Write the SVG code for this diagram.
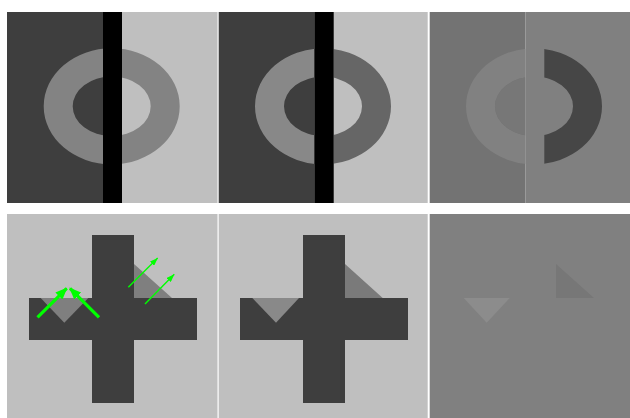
<svg xmlns="http://www.w3.org/2000/svg" width="630" height="418" viewBox="0 0 630 418">
<style>
.dark{fill:#3e3e3e}.light{fill:#bfbfbf}.mid{fill:#808080}.bar{fill:#000}
.g{stroke:#00ff00;fill:none}
</style>
<defs>
<clipPath id="cL2" clipPathUnits="userSpaceOnUse"><rect x="200" y="0" width="114.3" height="418"/></clipPath>
<clipPath id="cR2" clipPathUnits="userSpaceOnUse"><rect x="333.7" y="0" width="90" height="418"/></clipPath>
<clipPath id="cL3" clipPathUnits="userSpaceOnUse"><rect x="429.7" y="0" width="95.6" height="418"/></clipPath>
<clipPath id="cR3" clipPathUnits="userSpaceOnUse"><rect x="544.3" y="0" width="86" height="418"/></clipPath>
<marker id="hThick" markerUnits="userSpaceOnUse" markerWidth="12" markerHeight="10" viewBox="0 0 12 10" refX="11" refY="5" orient="auto"><path d="M0,0L12,5L0,10Z" fill="#00ff00"/></marker>
<marker id="hThin" markerUnits="userSpaceOnUse" markerWidth="8" markerHeight="6" viewBox="0 0 8 6" refX="8" refY="3" orient="auto"><path d="M0,0L8,3L0,6Z" fill="#00ff00"/></marker>
</defs>
<rect width="630" height="418" fill="#ffffff"/>
<g id="panelA1">
<rect class="dark" x="7" y="12" width="96" height="191"/>
<rect class="light" x="103" y="12" width="114.5" height="191"/>
<path fill="#838383" fill-rule="evenodd" d="M43.7,106.3A68,58 0 0,1 179.7,106.3A68,58 0 0,1 43.7,106.3ZM72.7,106.3A39,29.7 0 0,1 150.7,106.3A39,29.7 0 0,1 72.7,106.3Z"/>
<rect class="bar" x="103" y="12" width="19" height="191"/>
</g>
<g id="panelA2">
<rect class="dark" x="218.7" y="12" width="95.6" height="191"/>
<rect class="light" x="314.3" y="12" width="113.4" height="191"/>
<g clip-path="url(#cL2)">
<path fill="#888888" fill-rule="evenodd" d="M255,106.3A68,58 0 0,1 391,106.3A68,58 0 0,1 255,106.3ZM284,106.3A39,29.7 0 0,1 362,106.3A39,29.7 0 0,1 284,106.3Z"/>
</g>
<g clip-path="url(#cR2)">
<path fill="#666666" fill-rule="evenodd" d="M255,106.3A68,58 0 0,1 391,106.3A68,58 0 0,1 255,106.3ZM284,106.3A39,29.7 0 0,1 362,106.3A39,29.7 0 0,1 284,106.3Z"/>
</g>
<rect class="bar" x="314.3" y="12" width="19.4" height="191"/>
</g>
<g id="panelA3">
<rect x="429.7" y="12" width="95.6" height="191" fill="#737373"/>
<rect class="mid" x="525.3" y="12" width="104.7" height="191"/>
<g clip-path="url(#cL3)">
<path fill="#818181" fill-rule="evenodd" d="M466,106.3A68,58 0 0,1 602,106.3A68,58 0 0,1 466,106.3ZM495,106.3A39,29.7 0 0,1 573,106.3A39,29.7 0 0,1 495,106.3Z"/>
<ellipse cx="534" cy="106.3" rx="39" ry="29.7" fill="#777777"/>
</g>
<g clip-path="url(#cR3)">
<path fill="#464646" fill-rule="evenodd" d="M466,106.3A68,58 0 0,1 602,106.3A68,58 0 0,1 466,106.3ZM495,106.3A39,29.7 0 0,1 573,106.3A39,29.7 0 0,1 495,106.3Z"/>
</g>
</g>
<g id="panelB1">
<rect class="light" x="7" y="214" width="210.5" height="204"/>
<rect class="dark" x="92" y="235" width="42" height="168"/>
<rect class="dark" x="29" y="298" width="168" height="42"/>
<polygon points="40.7,298 88.3,298 64.3,322.7" fill="#7f7f7f"/>
<polygon points="134,264 134,298 172,298" fill="#7f7f7f"/>
</g>
<g id="panelB2">
<rect class="light" x="218.7" y="214" width="209" height="204"/>
<rect class="dark" x="303" y="235" width="42" height="168"/>
<rect class="dark" x="240" y="298" width="168" height="42"/>
<polygon points="252.3,298 299,298 276,322.7" fill="#898989"/>
<polygon points="345,264 345,298 382.7,298" fill="#7a7a7a"/>
</g>
<g id="panelB3">
<rect class="mid" x="429.7" y="214" width="200.3" height="204"/>
<polygon points="463.7,298 509.7,298 486.7,322.7" fill="#8c8c8c"/>
<polygon points="556,264 556,298 594,298" fill="#777777"/>
</g>
<g id="connectors">
<line class="g" x1="37.5" y1="317.3" x2="66.7" y2="288.3" stroke-width="3.2" marker-end="url(#hThick)"/>
<line class="g" x1="99" y1="317.3" x2="70" y2="288.3" stroke-width="3.2" marker-end="url(#hThick)"/>
<line class="g" x1="128.3" y1="287.3" x2="157.7" y2="258" stroke-width="1.4" marker-end="url(#hThin)"/>
<line class="g" x1="145" y1="304" x2="174.3" y2="274.3" stroke-width="1.4" marker-end="url(#hThin)"/>
</g>
</svg>
